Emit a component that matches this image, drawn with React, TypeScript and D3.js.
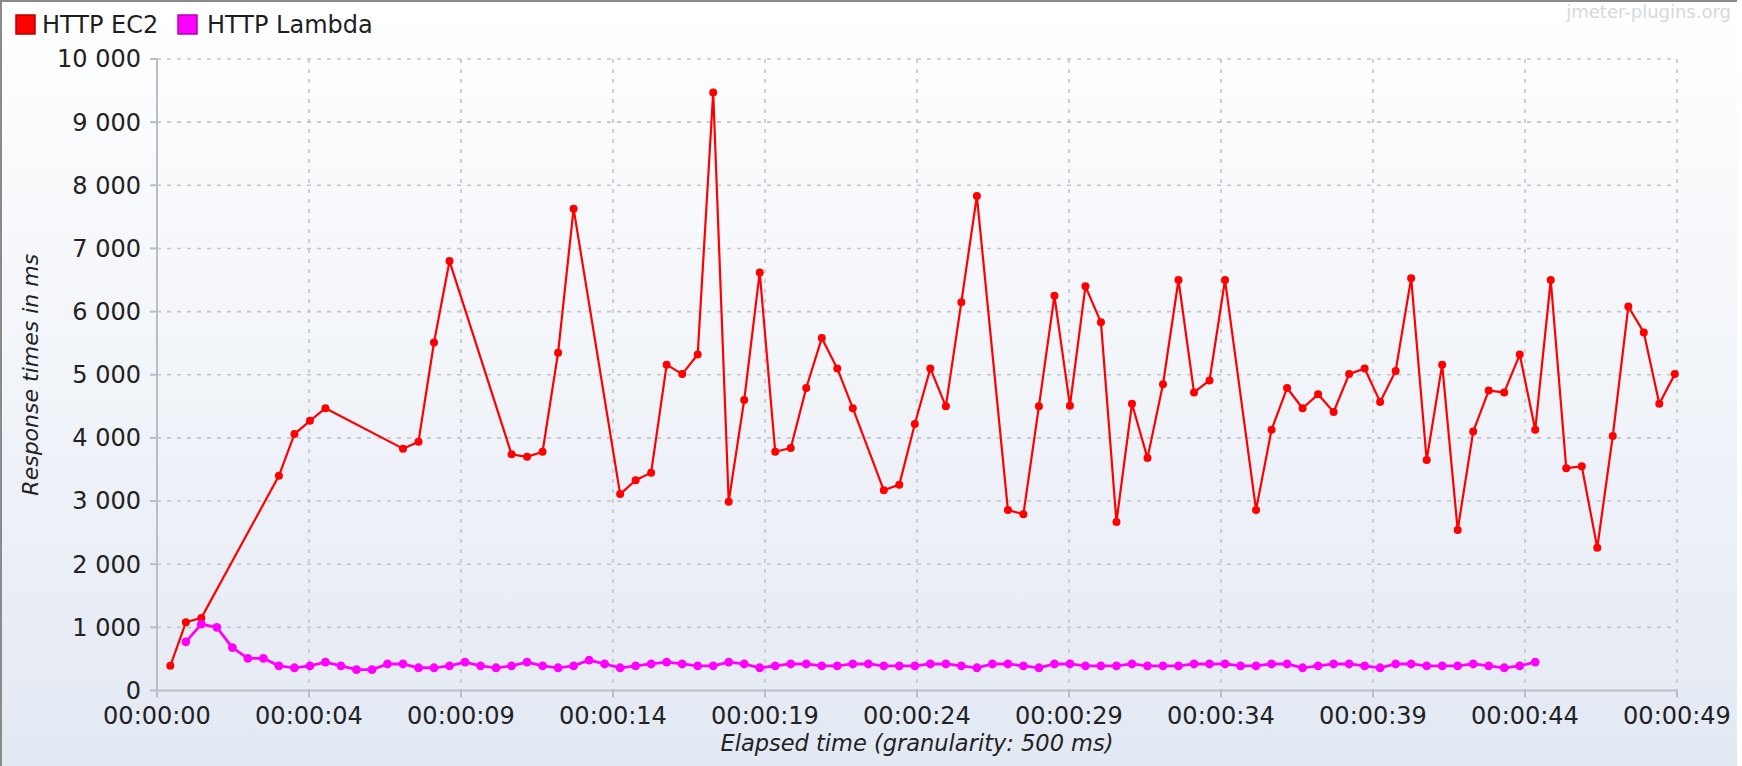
import React, { useEffect } from 'react'
import * as d3 from 'd3'

const seriesNames = ['HTTP EC2', 'HTTP Lambda']
const seriesColors = ['#ff0000', '#ff00ff']
const seriesEdges = ['#b80000', '#b800b8']

// EC2: elapsed time of each 500 ms bucket (ms) and the average response time in it.
// Some buckets had no finished samples, so the times have gaps.
const ec2Elapsed = [
  430, 930, 1430, 3930, 4430, 4930, 5430, 7930, 8430, 8930, 9430,
  11430, 11930, 12430, 12930, 13430, 14930, 15430, 15930, 16430, 16930, 17430,
  17930, 18430, 18930, 19430, 19930, 20430, 20930, 21430, 21930, 22430, 23430,
  23930, 24430, 24930, 25430, 25930, 26430, 27430, 27930, 28430, 28930, 29430,
  29930, 30430, 30930, 31430, 31930, 32430, 32930, 33430, 33930, 34430, 35430,
  35930, 36430, 36930, 37430, 37930, 38430, 38930, 39430, 39930, 40430, 40930,
  41430, 41930, 42430, 42930, 43430, 43930, 44430, 44930, 45430, 45930, 46430,
  46930, 47430, 47930, 48430, 48930,
]
const ec2Values = [
  390, 1080, 1150, 3400, 4060, 4270, 4470, 3830, 3940, 5510, 6800,
  3740, 3700, 3780, 5350, 7630, 3110, 3330, 3450, 5160, 5010, 5320,
  9470, 2990, 4600, 6620, 3780, 3840, 4790, 5580, 5100, 4470, 3170,
  3260, 4220, 5100, 4500, 6150, 7830, 2860, 2790, 4500, 6250, 4510,
  6400, 5830, 2670, 4540, 3680, 4850, 6500, 4720, 4910, 6500, 2860,
  4130, 4790, 4470, 4690, 4410, 5010, 5100, 4570, 5060, 6530, 3650,
  5160, 2540, 4100, 4750, 4720, 5320, 4130, 6500, 3520, 3550, 2260,
  4030, 6080, 5670, 4540, 5010,
]

// Lambda: one value per bucket, no gaps
const lambdaFirstElapsed = 930
const granularity = 500
const lambdaValues = [
  770, 1050, 1000, 680, 510, 510, 390, 360, 390, 450,
  390, 330, 330, 420, 420, 360, 360, 390, 450, 390,
  360, 390, 450, 390, 360, 390, 480, 420, 360, 390,
  420, 450, 420, 390, 390, 450, 420, 360, 390, 420,
  420, 390, 390, 420, 420, 390, 390, 390, 420, 420,
  390, 360, 420, 420, 390, 360, 420, 420, 390, 390,
  390, 420, 390, 390, 390, 420, 420, 420, 390, 390,
  420, 420, 360, 390, 420, 420, 390, 360, 420, 420,
  390, 390, 390, 420, 390, 360, 390, 450,
]

const xTickValues = [0, 4900, 9800, 14700, 19600, 24500, 29400, 34300, 39200, 44100, 49000]
const xTickLabels = [
  '00:00:00', '00:00:04', '00:00:09', '00:00:14', '00:00:19', '00:00:24',
  '00:00:29', '00:00:34', '00:00:39', '00:00:44', '00:00:49',
]
const yTickValues = [0, 1000, 2000, 3000, 4000, 5000, 6000, 7000, 8000, 9000, 10000]

const FONT = '"DejaVu Sans", "Lucida Grande", sans-serif'

export default function App() {
  useEffect(() => {
    document.body.style.margin = '0'
  }, [])

  const width = 1742
  const height = 766
  const left = 157
  const right = 1677
  const top = 59
  const bottom = 690.5

  const x = d3.scaleLinear().domain([0, 49000]).range([left, right])
  const y = d3.scaleLinear().domain([0, 10000]).range([bottom, top])
  const fmt = d3.formatLocale({ decimal: '.', thousands: ' ', grouping: [3], currency: ['', ''] }).format(',d')

  const ec2 = ec2Elapsed.map((t, i) => [t, ec2Values[i]] as [number, number])
  const lambda = lambdaValues.map((v, i) => [lambdaFirstElapsed + i * granularity, v] as [number, number])
  const series = [ec2, lambda]

  const line = d3.line<[number, number]>()
    .x(d => x(d[0]))
    .y(d => y(d[1]))

  const gridColor = '#c2c5cc'
  const axisColor = '#b8bdc6'

  return (
    <svg width={width} height={height} style={{ display: 'block', background: '#fff' }} fontFamily={FONT}>
      <defs>
        <linearGradient id="bg" x1="0" y1="0" x2="0" y2="1">
          <stop offset="0" stopColor="#ffffff" />
          <stop offset="1" stopColor="#e3e9f3" />
        </linearGradient>
      </defs>

      {/* panel */}
      <rect x={0} y={0} width={1737} height={height} fill="url(#bg)" />
      <line x1={0} x2={1737} y1={1} y2={1} stroke="#8a8a8a" strokeWidth={2} />
      <line x1={1} x2={1} y1={0} y2={height} stroke="#8a8a8a" strokeWidth={2} />

      {/* watermark */}
      <text x={1731} y={18} textAnchor="end" fontSize={18} fill="#d5d8de">jmeter-plugins.org</text>

      {/* legend */}
      <g>
        <rect x={16} y={15} width={19} height={19} fill={seriesColors[0]} stroke={seriesEdges[0]} strokeWidth={1.5} />
        <text x={42} y={33} fontSize={24} fill="#1e1e1e">{seriesNames[0]}</text>
        <rect x={178} y={15} width={19} height={19} fill={seriesColors[1]} stroke={seriesEdges[1]} strokeWidth={1.5} />
        <text x={207} y={33} fontSize={24} fill="#1e1e1e">{seriesNames[1]}</text>
      </g>

      {/* grid */}
      <g stroke={gridColor} strokeWidth={1.6} strokeDasharray="4 6">
        {yTickValues.filter(v => v > 0).map(v => (
          <line key={'gy' + v} x1={left} x2={right} y1={y(v)} y2={y(v)} />
        ))}
        {xTickValues.filter(v => v > 0).map(v => (
          <line key={'gx' + v} x1={x(v)} x2={x(v)} y1={top} y2={bottom} />
        ))}
      </g>

      {/* axes */}
      <g stroke={axisColor} strokeWidth={2}>
        <line x1={left} x2={left} y1={top} y2={bottom} />
        <line x1={left} x2={right} y1={bottom} y2={bottom} />
        {yTickValues.map(v => (
          <line key={'ty' + v} x1={left - 7} x2={left} y1={y(v)} y2={y(v)} />
        ))}
        {xTickValues.map(v => (
          <line key={'tx' + v} x1={x(v)} x2={x(v)} y1={bottom} y2={bottom + 7} />
        ))}
      </g>

      <g fontSize={24} fill="#222">
        {yTickValues.map(v => (
          <text key={'ly' + v} x={left - 16} y={y(v)} dy="0.35em" textAnchor="end">{fmt(v)}</text>
        ))}
        {xTickValues.map((v, i) => (
          <text key={'lx' + v} x={x(v)} y={724} textAnchor="middle">{xTickLabels[i]}</text>
        ))}
      </g>

      {/* axis titles */}
      <text x={(left + right) / 2} y={751} textAnchor="middle" fontSize={22.5} fontStyle="italic" fill="#222">
        Elapsed time (granularity: 500 ms)
      </text>
      <text transform={`translate(38, ${(top + bottom) / 2}) rotate(-90)`} textAnchor="middle" fontSize={22} fontStyle="italic" fill="#222">
        Response times in ms
      </text>

      {/* series */}
      {series.map((data, si) => (
        <g key={seriesNames[si]}>
          <path d={line(data) || ''} fill="none" stroke={seriesColors[si]} strokeWidth={si === 0 ? 2.2 : 2.8} strokeLinejoin="round" />
          {data.map((d, i) => (
            <circle key={i} cx={x(d[0])} cy={y(d[1])} r={si === 0 ? 4 : 4.4} fill={seriesColors[si]} />
          ))}
        </g>
      ))}
    </svg>
  )
}
